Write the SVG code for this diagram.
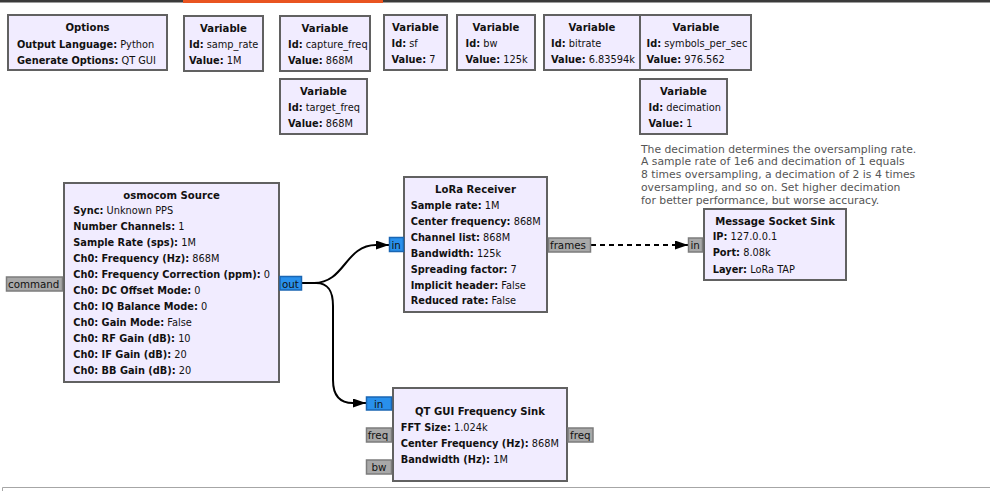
<svg xmlns="http://www.w3.org/2000/svg" width="990" height="491" viewBox="0 0 990 491">
<defs>
<style>
text{font-family:"DejaVu Sans","Liberation Sans",sans-serif;font-size:9.8px;fill:#111}
.t{font-weight:bold;text-anchor:middle;font-size:10.1px}
.b{font-weight:bold}
.blk{fill:#f1ecff;stroke:#616161;stroke-width:2}
.pg{fill:#a8a8a8;stroke:#7c7c7c;stroke-width:1.5}
.pb{fill:#2990ec;stroke:#1a66b3;stroke-width:1.5}
.pt{font-size:10.3px;fill:#111}
.cm{font-size:10.8px;fill:#555}
.w{fill:none;stroke:#000;stroke-width:2}
</style>
<marker id="ah" markerUnits="userSpaceOnUse" markerWidth="13" markerHeight="10" refX="13" refY="4.5" orient="auto">
<path d="M0,0 L13,4.5 L0,9 z" fill="#000"/>
</marker>
</defs>
<rect x="0" y="0" width="990" height="491" fill="#fff"/>
<rect x="0" y="0" width="990" height="2.5" fill="#3a3a3a"/>
<rect x="183" y="0" width="200" height="3" fill="#e95420"/>
<path d="M990,487.5 H2.5 V491" fill="none" stroke="#a6a6a6" stroke-width="1"/>

<g id="connectors">
<path class="w" d="M302,283 H314 C345,283 345,245 376,245 H389" marker-end="url(#ah)"/>
<path class="w" d="M302,283 H316 C329,283 333,292 333,306 V380 C333,396 340,403 353,403 H366" marker-end="url(#ah)"/>
<path class="w" d="M591,245 H678" stroke-dasharray="5,4"/>
<path class="w" d="M676,245 H688" marker-end="url(#ah)"/>
</g>

<g id="options">
<rect class="blk" x="8" y="15" width="159" height="55"/>
<text class="t" x="87.5" y="31">Options</text>
<text x="17" y="47.5"><tspan class="b">Output Language:</tspan> Python</text>
<text x="17" y="63.5"><tspan class="b">Generate Options:</tspan> QT GUI</text>
</g>

<g id="var_samp_rate">
<rect class="blk" x="184" y="16" width="79" height="55"/>
<text class="t" x="223.5" y="31.5">Variable</text>
<text x="189" y="47.5"><tspan class="b">Id:</tspan> samp_rate</text>
<text x="189" y="63.5"><tspan class="b">Value:</tspan> 1M</text>
</g>

<g id="var_capture_freq">
<rect class="blk" x="280" y="16" width="90" height="55"/>
<text class="t" x="325" y="31.5">Variable</text>
<text x="288" y="47.5"><tspan class="b">Id:</tspan> capture_freq</text>
<text x="288" y="63.5"><tspan class="b">Value:</tspan> 868M</text>
</g>

<g id="var_target_freq">
<rect class="blk" x="280" y="79" width="87" height="55"/>
<text class="t" x="323.5" y="95">Variable</text>
<text x="288" y="111"><tspan class="b">Id:</tspan> target_freq</text>
<text x="288" y="127"><tspan class="b">Value:</tspan> 868M</text>
</g>

<g id="var_sf">
<rect class="blk" x="384" y="15" width="63" height="55"/>
<text class="t" x="415.5" y="31">Variable</text>
<text x="391.5" y="47"><tspan class="b">Id:</tspan> sf</text>
<text x="391.5" y="63"><tspan class="b">Value:</tspan> 7</text>
</g>

<g id="var_bw">
<rect class="blk" x="457" y="15" width="78" height="55"/>
<text class="t" x="496" y="31">Variable</text>
<text x="465.5" y="47"><tspan class="b">Id:</tspan> bw</text>
<text x="465.5" y="63"><tspan class="b">Value:</tspan> 125k</text>
</g>

<g id="var_bitrate">
<rect class="blk" x="544" y="15" width="96" height="55"/>
<text class="t" x="592" y="31">Variable</text>
<text x="551" y="47"><tspan class="b">Id:</tspan> bitrate</text>
<text x="551" y="63"><tspan class="b">Value:</tspan> 6.83594k</text>
</g>

<g id="var_symbols_per_sec">
<rect class="blk" x="640" y="15" width="111" height="55"/>
<text class="t" x="696" y="31">Variable</text>
<text x="646.5" y="47"><tspan class="b">Id:</tspan> symbols_per_sec</text>
<text x="646.5" y="63"><tspan class="b">Value:</tspan> 976.562</text>
</g>

<g id="var_decimation">
<rect class="blk" x="640" y="79" width="87" height="55"/>
<text class="t" x="683.5" y="95">Variable</text>
<text x="648.5" y="111"><tspan class="b">Id:</tspan> decimation</text>
<text x="648.5" y="127"><tspan class="b">Value:</tspan> 1</text>
</g>

<g id="comment">
<text class="cm" x="641" y="152.5">The decimation determines the oversampling rate.</text>
<text class="cm" x="641" y="165.3">A sample rate of 1e6 and decimation of 1 equals</text>
<text class="cm" x="641" y="178.1">8 times oversampling, a decimation of 2 is 4 times</text>
<text class="cm" x="641" y="190.9">oversampling, and so on. Set higher decimation</text>
<text class="cm" x="641" y="203.7">for better performance, but worse accuracy.</text>
</g>

<g id="osmocom_source">
<rect class="blk" x="64" y="183" width="215" height="199"/>
<text class="t" x="171.5" y="198.6">osmocom Source</text>
<text x="73.3" y="214.3"><tspan class="b">Sync:</tspan> Unknown PPS</text>
<text x="73.3" y="230.3"><tspan class="b">Number Channels:</tspan> 1</text>
<text x="73.3" y="246.3"><tspan class="b">Sample Rate (sps):</tspan> 1M</text>
<text x="73.3" y="262.3"><tspan class="b">Ch0: Frequency (Hz):</tspan> 868M</text>
<text x="73.3" y="278.3"><tspan class="b">Ch0: Frequency Correction (ppm):</tspan> 0</text>
<text x="73.3" y="294.3"><tspan class="b">Ch0: DC Offset Mode:</tspan> 0</text>
<text x="73.3" y="310.3"><tspan class="b">Ch0: IQ Balance Mode:</tspan> 0</text>
<text x="73.3" y="326.3"><tspan class="b">Ch0: Gain Mode:</tspan> False</text>
<text x="73.3" y="342.3"><tspan class="b">Ch0: RF Gain (dB):</tspan> 10</text>
<text x="73.3" y="358.3"><tspan class="b">Ch0: IF Gain (dB):</tspan> 20</text>
<text x="73.3" y="374.3"><tspan class="b">Ch0: BB Gain (dB):</tspan> 20</text>
<rect class="pg" x="6.5" y="277" width="56" height="14"/>
<text class="pt" x="8" y="288">command</text>
<rect class="pb" x="280" y="276.5" width="21.5" height="13.5"/>
<text class="pt" x="282" y="287.5">out</text>
</g>

<g id="lora_receiver">
<rect class="blk" x="404" y="177" width="143" height="135"/>
<text class="t" x="475.5" y="192.6">LoRa Receiver</text>
<text x="410.7" y="209.3"><tspan class="b">Sample rate:</tspan> 1M</text>
<text x="410.7" y="225.2"><tspan class="b">Center frequency:</tspan> 868M</text>
<text x="410.7" y="241"><tspan class="b">Channel list:</tspan> 868M</text>
<text x="410.7" y="256.8"><tspan class="b">Bandwidth:</tspan> 125k</text>
<text x="410.7" y="272.6"><tspan class="b">Spreading factor:</tspan> 7</text>
<text x="410.7" y="288.5"><tspan class="b">Implicit header:</tspan> False</text>
<text x="410.7" y="304.2"><tspan class="b">Reduced rate:</tspan> False</text>
<rect class="pb" x="389.5" y="237.5" width="14" height="14"/>
<text class="pt" x="391.5" y="248.5">in</text>
<rect class="pg" x="548.5" y="238" width="42" height="14"/>
<text class="pt" x="550" y="249">frames</text>
</g>

<g id="message_socket_sink">
<rect class="blk" x="704" y="209" width="142" height="71"/>
<text class="t" x="775" y="224.6">Message Socket Sink</text>
<text x="712.7" y="240.3"><tspan class="b">IP:</tspan> 127.0.0.1</text>
<text x="712.7" y="256.3"><tspan class="b">Port:</tspan> 8.08k</text>
<text x="712.7" y="272.9"><tspan class="b">Layer:</tspan> LoRa TAP</text>
<rect class="pg" x="688.5" y="238" width="14" height="14"/>
<text class="pt" x="690.5" y="249">in</text>
</g>

<g id="qt_gui_frequency_sink">
<rect class="blk" x="393" y="388" width="174" height="93"/>
<text class="t" x="480" y="415.3">QT GUI Frequency Sink</text>
<text x="400.7" y="431"><tspan class="b">FFT Size:</tspan> 1.024k</text>
<text x="400.7" y="446.6"><tspan class="b">Center Frequency (Hz):</tspan> 868M</text>
<text x="400.7" y="463"><tspan class="b">Bandwidth (Hz):</tspan> 1M</text>
<rect class="pb" x="366.5" y="397" width="25" height="13"/>
<text class="pt" x="374" y="407.5">in</text>
<rect class="pg" x="366.5" y="428" width="25" height="14"/>
<text class="pt" x="367.7" y="439">freq</text>
<rect class="pg" x="366.5" y="460" width="25" height="14"/>
<text class="pt" x="371.5" y="471">bw</text>
<rect class="pg" x="568" y="428" width="25" height="14"/>
<text class="pt" x="570" y="439">freq</text>
</g>
</svg>
